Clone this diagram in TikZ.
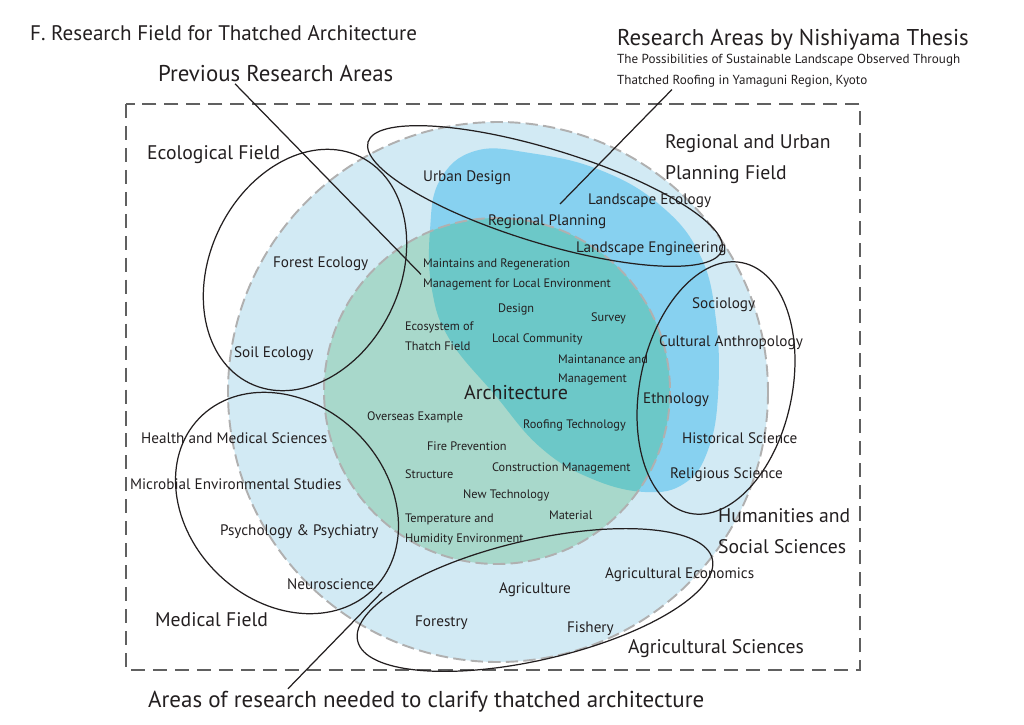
\documentclass[tikz,border=0pt]{standalone}
\usepackage{fontspec}
\setmainfont{PT Sans}
\usetikzlibrary{calc}

\definecolor{skyfill}{HTML}{D2EAF4}
\definecolor{bluefill}{HTML}{87D1F0}
\definecolor{archfill}{HTML}{A8D8CB}
\definecolor{tealfill}{HTML}{6CC8C8}
\definecolor{rimgray}{HTML}{B0B0B0}
\definecolor{boxgray}{HTML}{606060}
\definecolor{inkgray}{HTML}{231F20}

\begin{document}
\begin{tikzpicture}[x=0.02cm,y=-0.02cm,
  every node/.style={text=inkgray,inner sep=1pt,anchor=west,align=left},
  lblsmall/.style={font=\fontsize{7}{11.3}\selectfont,yshift=-0.8pt},
  lblmid/.style={font=\fontsize{8.65}{12}\selectfont,yshift=-0.8pt},
  lblbig/.style={font=\fontsize{11.2}{17.8}\selectfont,yshift=-0.8pt},
  lblhead/.style={font=\fontsize{13}{15}\selectfont,yshift=-0.8pt},
  rim/.style={draw=rimgray,line width=1.1pt,dash pattern=on 7pt off 3pt},
  field/.style={draw=inkgray,line width=0.7pt},
  leader/.style={draw=inkgray,line width=0.7pt}]

    \useasboundingbox (0,0) rectangle (1024,724);

    \draw[boxgray,line width=0.9pt,dash pattern=on 8pt off 4.5pt] (126,104) rectangle (860,670);

    \coordinate (outer) at (498,392);
    \coordinate (inner) at (497,391);

    \fill[skyfill] (outer) circle [radius=270];
    \fill[bluefill] plot[smooth cycle,tension=0.7] coordinates {(475,151) (530,153) (600,170) (660,205) (700,255)
        (716,320) (718,395) (708,450) (685,483) (645,492) (590,478) (540,447) (495,395) (450,340)
        (432,290) (430,230) (440,180)};
    \fill[archfill] (inner) circle [radius=173];
    \begin{scope}
        \clip plot[smooth cycle,tension=0.7] coordinates {(475,151) (530,153) (600,170) (660,205) (700,255)
            (716,320) (718,395) (708,450) (685,483) (645,492) (590,478) (540,447) (495,395) (450,340)
            (432,290) (430,230) (440,180)};
        \fill[tealfill] (inner) circle [radius=173];
    \end{scope}
    \draw[rim] (outer) circle [radius=270];
    \draw[rim] (inner) circle [radius=173];

    % field outlines
    \coordinate (eco) at (305,270);
    \coordinate (plan) at (545,196);
    \coordinate (hum) at (716,388);
    \coordinate (med) at (287,503);
    \coordinate (agr) at (535,600);
    \draw[field,rotate around={64:(eco)}] (eco) ellipse [x radius=126,y radius=95];
    \draw[field,rotate around={-17:(plan)}] (plan) ellipse [x radius=185,y radius=47];
    \draw[field,rotate around={78:(hum)}] (hum) ellipse [x radius=128,y radius=76];
    \draw[field,rotate around={-44:(med)}] (med) ellipse [x radius=122,y radius=99];
    \draw[field,rotate around={13:(agr)}] (agr) ellipse [x radius=182,y radius=60];

    \node[font=\fontsize{12}{14}\selectfont,yshift=-0.8pt] (title) at (28,32) {F. Research Field for Thatched Architecture};
    \node[lblhead] (prev) at (156,72) {Previous Research Areas};
    \node[lblhead] (nishi) at (615,38) {Research Areas by Nishiyama Thesis};
    \node[lblsmall,font=\fontsize{7.45}{11.9}\selectfont] (thesis) at (615,69.5) {The Possibilities of Sustainable Landscape Observed Through\\Thatched Roofing in Yamaguni Region, Kyoto};

    \node[lblbig] (ecofield) at (145,153) {Ecological Field};
    \node[lblbig] (planfield) at (663,157.5) {Regional and Urban\\Planning Field};
    \node[lblbig] (humfield) at (716,530) {Humanities and\\Social Sciences};
    \node[lblbig] (medfield) at (153,618) {Medical Field};
    \node[lblbig] (agrfield) at (626,647) {Agricultural Sciences};

    \node[lblmid] (urban) at (421,176) {Urban Design};
    \node[lblmid] (landeco) at (586,199) {Landscape Ecology};
    \node[lblmid] (regplan) at (486,220) {Regional Planning};
    \node[lblmid] (landeng) at (574,247) {Landscape Engineering};
    \node[lblmid] (forest) at (271,262) {Forest Ecology};
    \node[lblmid] (soil) at (232,352) {Soil Ecology};
    \node[lblmid] (socio) at (690,303) {Sociology};
    \node[lblmid] (cultural) at (657,341) {Cultural Anthropology};
    \node[lblmid] (ethno) at (641,398) {Ethnology};
    \node[lblmid] (hist) at (680,437) {Historical Science};
    \node[lblmid] (relig) at (668,473) {Religious Science};
    \node[lblmid] (health) at (139,437) {Health and Medical Sciences};
    \node[lblmid] (microbial) at (128,483) {Microbial Environmental Studies};
    \node[lblmid] (psych) at (218,530) {Psychology \& Psychiatry};
    \node[lblmid] (neuro) at (285,583) {Neuroscience};
    \node[lblmid] (agecon) at (603,573) {Agricultural Economics};
    \node[lblmid] (agri) at (497,588) {Agriculture};
    \node[lblmid] (forestry) at (413,621) {Forestry};
    \node[lblmid] (fishery) at (565,627) {Fishery};

    \node[font=\fontsize{11.4}{13}\selectfont,yshift=-0.8pt] (arch) at (462,391) {Architecture};
    \node[lblsmall] (maint) at (421,273) {Maintains and Regeneration\\Management for Local Environment};
    \node[lblsmall] (design) at (496,308) {Design};
    \node[lblsmall] (survey) at (589,317) {Survey};
    \node[lblsmall] (ecosys) at (403,335) {Ecosystem of\\Thatch Field};
    \node[lblsmall] (localcom) at (490,338) {Local Community};
    \node[lblsmall] (upkeep) at (556,368.5) {Maintanance and\\Management};
    \node[lblsmall] (overseas) at (365,416) {Overseas Example};
    \node[lblsmall] (roofing) at (521,424) {Roofing Technology};
    \node[lblsmall] (fire) at (425,445) {Fire Prevention};
    \node[lblsmall] (construct) at (490,467) {Construction Management};
    \node[lblsmall] (structure) at (403,473) {Structure};
    \node[lblsmall] (newtech) at (461,494) {New Technology};
    \node[lblsmall] (material) at (547,514) {Material};
    \node[lblsmall] (climate) at (403,528) {Temperature and\\Humidity Environment};

    \node[font=\fontsize{13.1}{15}\selectfont,yshift=-0.8pt] (needed) at (146,700) {Areas of research needed to clarify thatched architecture};

    \coordinate (nishiend) at (560,204);
    \coordinate (neededend) at (382,592);
    \draw[leader] ([xshift=1.58cm]prev.south west) -- (maint.west);
    \draw[leader] ([xshift=1.14cm]thesis.south west) -- (nishiend);
    \draw[leader] ([xshift=2.84cm]needed.north west) -- (neededend);
\end{tikzpicture}
\end{document}
